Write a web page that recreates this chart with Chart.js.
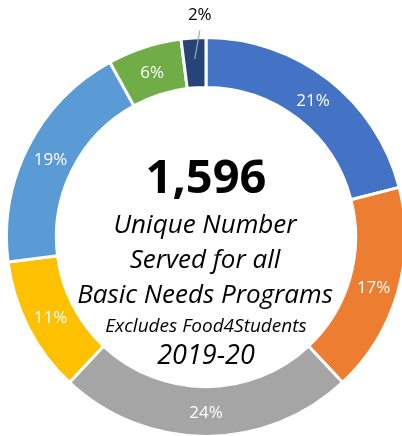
<!DOCTYPE html>
<html>
<head>
<meta charset="utf-8">
<script src="https://cdn.jsdelivr.net/npm/chart.js@4/dist/chart.umd.min.js"></script>
<style>
  html, body { margin: 0; padding: 0; background: #fff; overflow: hidden; }
  #wrap { width: 402px; height: 436px; position: relative; }
</style>
</head>
<body>
<div id="wrap"><canvas id="chart" width="402" height="436"></canvas></div>
<script>
// Program share of unique students served, 2019-20
const categories = ['Program 1', 'Program 2', 'Program 3', 'Program 4', 'Program 5', 'Program 6', 'Program 7'];
const shares = [21, 17, 24, 11, 19, 6, 2];
const colors = ['#4472C4', '#ED7D31', '#A5A5A5', '#FFC000', '#5B9BD5', '#70AD47', '#264478'];

const totalServed = '1,596';
const centerLines = ['Unique Number', 'Served for all', 'Basic Needs Programs'];
const noteLine = 'Excludes Food4Students';
const yearLine = '2019-20';

const FONT = '"Open Sans", sans-serif';

// percent labels on the ring, small slices get an outside label with a leader line
const sliceLabels = {
    id: 'sliceLabels',
    afterDatasetsDraw(chart) {
        const ctx = chart.ctx;
        const meta = chart.getDatasetMeta(0);
        ctx.save();
        ctx.textAlign = 'center';
        ctx.textBaseline = 'middle';
        ctx.font = '17px ' + FONT;
        meta.data.forEach((arc, i) => {
            const text = shares[i] + '%';
            if (shares[i] < 4) {
                const mid = (arc.startAngle + arc.endAngle) / 2;
                const r = (arc.innerRadius + arc.outerRadius) / 2 + 4;
                const ax = arc.x + Math.cos(mid) * r;
                const ay = arc.y + Math.sin(mid) * r;
                const lx = ax + 5;
                const ly = arc.y - arc.outerRadius - 22;
                ctx.strokeStyle = '#A6A6A6';
                ctx.lineWidth = 1.2;
                ctx.beginPath();
                ctx.moveTo(ax, ay);
                ctx.lineTo(lx, ly + 15);
                ctx.stroke();
                ctx.fillStyle = '#000';
                ctx.fillText(text, lx, ly);
            } else {
                const pos = arc.tooltipPosition();
                ctx.fillStyle = '#fff';
                ctx.fillText(text, pos.x, pos.y + 2);
            }
        });
        ctx.restore();
    }
};

const centerText = {
    id: 'centerText',
    afterDraw(chart) {
        const ctx = chart.ctx;
        const arc = chart.getDatasetMeta(0).data[0];
        const cx = arc.x;
        const cy = arc.y;
        ctx.save();
        ctx.textAlign = 'center';
        ctx.textBaseline = 'alphabetic';
        ctx.fillStyle = '#000';
        ctx.font = 'bold 47px ' + FONT;
        ctx.fillText(totalServed, cx, cy - 44);
        ctx.font = 'italic 26px ' + FONT;
        centerLines.forEach((line, i) => {
            ctx.fillText(line, cx - 1, cy - 4 + i * 35);
        });
        ctx.font = 'italic 19px ' + FONT;
        ctx.fillText(noteLine, cx, cy + 95);
        ctx.font = 'italic 27px ' + FONT;
        ctx.fillText(yearLine, cx, cy + 127);
        ctx.restore();
    }
};

new Chart(document.getElementById('chart'), {
    type: 'doughnut',
    data: {
        labels: categories,
        datasets: [{
            data: shares,
            backgroundColor: colors,
            borderColor: '#fff',
            borderWidth: 3,
            radius: 199.5
        }]
    },
    options: {
        responsive: false,
        animation: false,
        cutout: '75%',
        layout: { padding: { top: 38, bottom: 0, left: 10, right: 0 } },
        plugins: {
            legend: { display: false },
            tooltip: { enabled: false }
        }
    },
    plugins: [sliceLabels, centerText]
});
</script>
</body>
</html>
